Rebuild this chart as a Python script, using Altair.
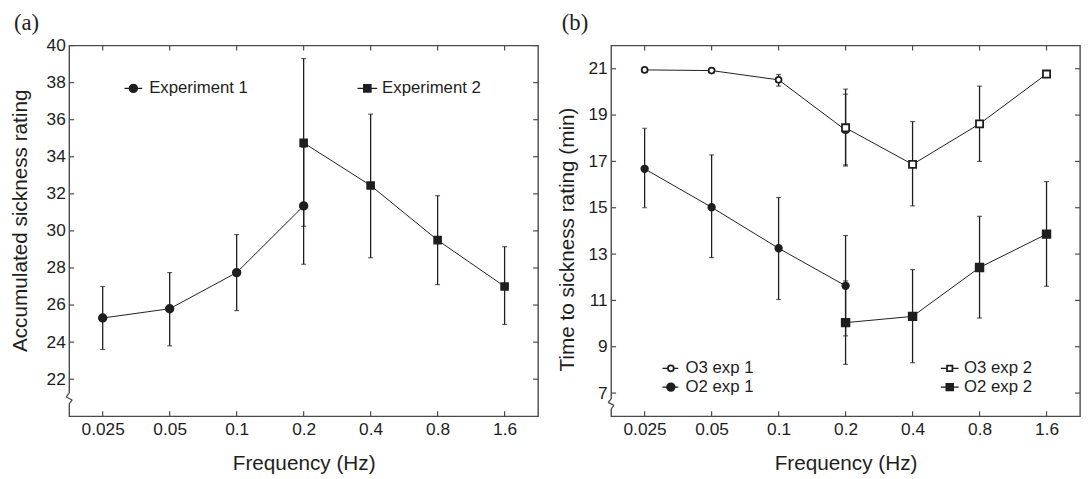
import altair as alt
import pandas as pd

# ---------------- data ----------------
freqs = [0.025, 0.05, 0.1, 0.2, 0.4, 0.8, 1.6]

# panel (a): accumulated sickness rating
a_e1_freq = [0.025, 0.05, 0.1, 0.2]
a_e1_mean = [25.3, 25.8, 27.75, 31.35]
a_e1_lo = [23.6, 23.8, 25.7, 28.2]
a_e1_hi = [27.0, 27.75, 29.8, 34.5]

a_e2_freq = [0.2, 0.4, 0.8, 1.6]
a_e2_mean = [34.75, 32.45, 29.5, 27.0]
a_e2_lo = [30.25, 28.55, 27.1, 24.95]
a_e2_hi = [39.3, 36.3, 31.9, 29.15]

a_yticks = [22, 24, 26, 28, 30, 32, 34, 36, 38, 40]

# panel (b): time to sickness rating (min)
b_o3e1_freq = [0.025, 0.05, 0.1, 0.2]
b_o3e1_mean = [20.95, 20.92, 20.52, 18.35]
b_o3e1_lo = [20.9, 20.87, 20.25, 16.8]
b_o3e1_hi = [21.0, 20.97, 20.75, 19.9]

b_o3e2_freq = [0.2, 0.4, 0.8, 1.6]
b_o3e2_mean = [18.45, 16.87, 18.62, 20.77]
b_o3e2_lo = [16.85, 15.08, 17.0, 20.67]
b_o3e2_hi = [20.12, 18.72, 20.25, 20.87]

b_o2e1_freq = [0.025, 0.05, 0.1, 0.2]
b_o2e1_mean = [16.68, 15.02, 13.25, 11.63]
b_o2e1_lo = [15.0, 12.85, 11.04, 9.47]
b_o2e1_hi = [18.43, 17.28, 15.44, 13.8]

b_o2e2_freq = [0.2, 0.4, 0.8, 1.6]
b_o2e2_mean = [10.04, 10.31, 12.42, 13.86]
b_o2e2_lo = [8.24, 8.31, 10.24, 11.61]
b_o2e2_hi = [11.84, 12.33, 14.63, 16.13]

b_yticks = [7, 9, 11, 13, 15, 17, 19, 21]

# ---------------- style ----------------
W, H = 475, 375.5
INK = "#1e1e1e"
FRAME = "#4a4a4a"
FONT = "Liberation Sans"
SERIF = "Liberation Serif"
XDOM = [0.025 / 2 ** 0.5, 1.6 * 2 ** 0.5]


def frame(series):
    rows = []
    for name, f, m, lo, hi in series:
        for i in range(len(f)):
            rows.append(dict(series=name, freq=f[i], mean=m[i], lo=lo[i], hi=hi[i]))
    return pd.DataFrame(rows)


def one():
    return alt.Chart(pd.DataFrame({"k": [0]}))


def panel(df, order, shapes, fills, sizes, ydom, yticks, ytitle, ytx, yty, legend, brk, tag):
    xs = alt.Scale(type="log", base=2, domain=XDOM, nice=False)
    ys = alt.Scale(domain=ydom, nice=False, zero=False)
    xaxis = alt.Axis(values=freqs, format="~g", labelFontSize=17.5, labelPadding=5,
                     labelColor=INK, labelFont=FONT, ticks=False, domain=False, grid=False,
                     title="Frequency (Hz)", titleFontSize=21, titleFont=FONT,
                     titleFontWeight="normal", titleColor=INK, titleBaseline="alphabetic",
                     titleY=53.5)
    yaxis = alt.Axis(values=yticks, labelFontSize=17.5, labelPadding=4, labelColor=INK,
                     labelFont=FONT, ticks=False, domain=False, grid=False, title=ytitle,
                     titleFontSize=21, titleFont=FONT, titleFontWeight="normal",
                     titleColor=INK, titleAngle=270, titleX=ytx, titleY=yty,
                     titleAlign="center", titleBaseline="alphabetic")
    base = alt.Chart(df)
    x = alt.X("freq:Q", scale=xs, axis=xaxis)
    y = alt.Y("mean:Q", scale=ys, axis=yaxis)
    err = base.mark_rule(color=INK, strokeWidth=1.3).encode(x=x, y=alt.Y("lo:Q", scale=ys), y2="hi:Q")
    cap_lo = base.mark_tick(orient="horizontal", color=INK, size=5, thickness=1.2).encode(x=x, y=alt.Y("lo:Q", scale=ys))
    cap_hi = base.mark_tick(orient="horizontal", color=INK, size=5, thickness=1.2).encode(x=x, y=alt.Y("hi:Q", scale=ys))
    line = base.mark_line(color=INK, strokeWidth=1).encode(x=x, y=y, detail="series:N")
    pts = base.mark_point(filled=True, stroke=INK, strokeWidth=1.8, opacity=1).encode(
        x=x, y=y,
        shape=alt.Shape("series:N", scale=alt.Scale(domain=order, range=shapes), legend=None),
        fill=alt.Fill("series:N", scale=alt.Scale(domain=order, range=fills), legend=None),
        size=alt.Size("series:N", scale=alt.Scale(domain=order, range=sizes), legend=None),
    )
    # inward frame ticks
    fdf = pd.DataFrame({"freq": freqs})
    ydf = pd.DataFrame({"v": yticks})
    t_top = alt.Chart(fdf).mark_rule(color=FRAME, strokeWidth=1.2).encode(
        x=alt.X("freq:Q", scale=xs), y=alt.value(0), y2=alt.value(5))
    t_bot = alt.Chart(fdf).mark_rule(color=FRAME, strokeWidth=1.2).encode(
        x=alt.X("freq:Q", scale=xs), y=alt.value(H - 5), y2=alt.value(H))
    t_l = alt.Chart(ydf).mark_rule(color=FRAME, strokeWidth=1.2).encode(
        y=alt.Y("v:Q", scale=ys), x=alt.value(0), x2=alt.value(5))
    t_r = alt.Chart(ydf).mark_rule(color=FRAME, strokeWidth=1.2).encode(
        y=alt.Y("v:Q", scale=ys), x=alt.value(W - 5), x2=alt.value(W))
    layers = [t_top, t_bot, t_l, t_r]
    # axis break on the left frame
    b0, b1 = brk
    layers.append(one().mark_rect(color="white").encode(
        x=alt.value(-4), x2=alt.value(4), y=alt.value(b0), y2=alt.value(b1)))
    mid = (b0 + b1) / 2
    segs = [(0, b0, -3, mid - 1.5), (-3, mid - 1.5, 3, mid + 1.5), (3, mid + 1.5, 0, b1)]
    for (x0, y0, x1, y1) in segs:
        layers.append(one().mark_rule(color=FRAME, strokeWidth=1.3).encode(
            x=alt.value(x0), y=alt.value(y0), x2=alt.value(x1), y2=alt.value(y1)))
    # manual legend
    for (lx0, lx1, mx, tx, ly, shp, fil, sz, label) in legend:
        layers.append(one().mark_rule(color=INK, strokeWidth=1.3).encode(
            x=alt.value(lx0), x2=alt.value(lx1), y=alt.value(ly)))
        layers.append(one().mark_point(filled=True, stroke=INK, strokeWidth=1.8, opacity=1,
                                       shape=shp, fill=fil, size=sz).encode(
            x=alt.value(mx), y=alt.value(ly)))
        layers.append(one().mark_text(align="left", baseline="middle", font=FONT,
                                      fontSize=17, color=INK).encode(
            x=alt.value(tx), y=alt.value(ly), text=alt.value(label)))
    # panel tag
    tx, ty, ttext = tag
    layers.append(one().mark_text(align="left", baseline="top", font=SERIF,
                                  fontSize=23, color=INK).encode(
        x=alt.value(tx), y=alt.value(ty), text=alt.value(ttext)))
    return alt.layer(err, cap_lo, cap_hi, line, pts, *layers).properties(width=W, height=H)


dfa = frame([
    ("Experiment 1", a_e1_freq, a_e1_mean, a_e1_lo, a_e1_hi),
    ("Experiment 2", a_e2_freq, a_e2_mean, a_e2_lo, a_e2_hi),
])
dfb = frame([
    ("O3 exp 1", b_o3e1_freq, b_o3e1_mean, b_o3e1_lo, b_o3e1_hi),
    ("O2 exp 1", b_o2e1_freq, b_o2e1_mean, b_o2e1_lo, b_o2e1_hi),
    ("O3 exp 2", b_o3e2_freq, b_o3e2_mean, b_o3e2_lo, b_o3e2_hi),
    ("O2 exp 2", b_o2e2_freq, b_o2e2_mean, b_o2e2_lo, b_o2e2_hi),
])

pa = panel(
    dfa, ["Experiment 1", "Experiment 2"], ["circle", "square"], [INK, INK], [60, 48],
    [20, 40], a_yticks, "Accumulated sickness rating", -43.7, 177,
    [(56, 74, 65, 81, 43.4, "circle", INK, 60, "Experiment 1"),
     (292, 312, 302, 317, 43.4, "square", INK, 48, "Experiment 2")],
    (352, 363), (-56, -33.5, "(a)"),
)
pb = panel(
    dfb, ["O3 exp 1", "O2 exp 1", "O3 exp 2", "O2 exp 2"],
    ["circle", "circle", "square", "square"], ["white", INK, "white", INK],
    [36, 60, 30, 46],
    [6, 22], b_yticks, "Time to sickness rating (min)", -38.5, 196,
    [(52, 68, 60.5, 75.3, 327, "circle", "white", 36, "O3 exp 1"),
     (52, 68, 60.5, 75.3, 346, "circle", INK, 60, "O2 exp 1"),
     (334, 352, 343, 357.4, 327, "square", "white", 30, "O3 exp 2"),
     (334, 352, 343, 357.4, 346, "square", INK, 46, "O2 exp 2")],
    (358, 368), (-50, -33.5, "(b)"),
)

chart = alt.hconcat(pa, pb, spacing=15).resolve_scale(
    shape="independent", fill="independent", size="independent"
).properties(
    padding={"left": 0, "top": 0, "right": 0, "bottom": 0},
    background="white",
).configure_view(stroke=FRAME, strokeWidth=1.4)

chart.save("out.html", embed_options={"renderer": "svg", "actions": False})
